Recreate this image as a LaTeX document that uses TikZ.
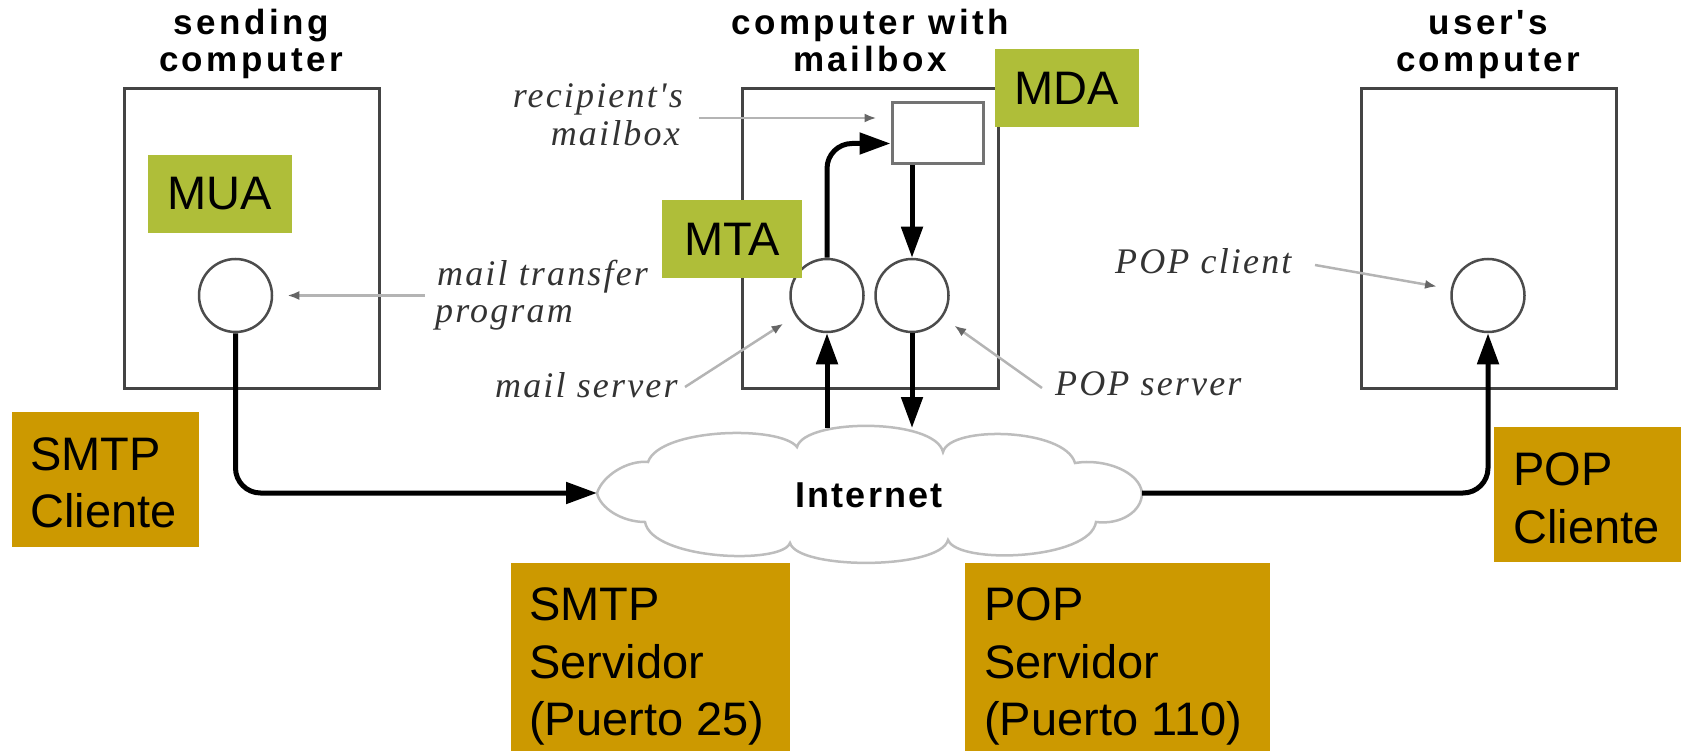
\documentclass[tikz,border=0pt]{standalone}
\usepackage{fontspec}
\usetikzlibrary{arrows.meta}
\newfontfamily\arialfont{Liberation Sans}
\newfontfamily\titlefont[LetterSpace=10]{Liberation Sans}
\newfontfamily\inetfont[LetterSpace=6]{Liberation Sans}
\newfontfamily\italfont[LetterSpace=6]{Liberation Serif}
\definecolor{boxgreen}{HTML}{AFBE39}
\definecolor{boxgold}{HTML}{CC9900}
\definecolor{framegray}{HTML}{444444}
\definecolor{thingray}{HTML}{B4B4B4}
\definecolor{cloudgray}{HTML}{BDBDBD}
\tikzset{
  compbox/.style={draw=framegray, line width=3pt, minimum width=255pt, minimum height=299pt, inner sep=0pt},
  circ/.style={circle, draw=black!70, line width=2.5pt, fill=white, minimum size=73pt, inner sep=0pt},
  greenbox/.style={fill=boxgreen, minimum width=144pt, minimum height=78pt, inner sep=0pt, font=\fontsize{47}{50}\arialfont\selectfont},
  goldbox/.style={fill=boxgold, inner sep=0pt},
  goldtext/.style={anchor=base west, inner sep=0pt, font=\fontsize{47}{57}\arialfont\selectfont},
  titletext/.style={anchor=base, inner sep=0pt, font=\fontsize{35}{38}\titlefont\bfseries\selectfont},
  lbltext/.style={inner sep=0pt, text=black!80, font=\fontsize{36}{38}\italfont\itshape\selectfont},
  conn/.style={line width=5pt, draw=black},
  tipA/.style={-{Triangle[length=31pt,width=21pt]}},
  tipB/.style={{Triangle[length=31pt,width=21pt]}-},
  lbl/.style={draw=thingray, line width=2.5pt, -{Latex[length=12pt,width=9pt,color=black!60]}, shorten >=14pt},
  cloudline/.style={draw=cloudgray, line width=2.5pt, fill=white}
}
\begin{document}
\begin{tikzpicture}[x=1pt,y=-1pt]
\useasboundingbox (0,0) rectangle (1683,751);

% computers
\node[compbox] (sendbox) at (251.5,238.5) {};
\node[compbox, minimum width=256pt] (mboxcomp) at (870,238.5) {};
\node[compbox] (userbox) at (1488.5,238.5) {};
\node[draw=black!55, line width=3pt, minimum width=91pt, minimum height=61pt, inner sep=0pt] (mbox) at (937.5,133.5) {};

% titles
\node[titletext] (t1a) at (251,35) {sending};
\node[titletext] (t1b) at (251,72) {computer};
\node[titletext] (t2a) at (870,35) {computer with};
\node[titletext] (t2b) at (870,72) {mailbox};
\node[titletext] (t3a) at (1488,35) {user's};
\node[titletext] (t3b) at (1488,72) {computer};

% cloud
\draw[cloudline] (597,493) .. controls (603,475) and (628,460) .. (648,462)
  .. controls (660,428) and (780,425) .. (797,447)
  .. controls (805,418) and (935,418) .. (943,452)
  .. controls (950,425) and (1065,428) .. (1075,463)
  .. controls (1105,458) and (1140,472) .. (1142,493)
  .. controls (1142,512) and (1120,525) .. (1096,522)
  .. controls (1090,560) and (958,565) .. (948,540)
  .. controls (940,570) and (798,570) .. (790,543)
  .. controls (782,565) and (652,560) .. (645,522)
  .. controls (622,522) and (600,508) .. (597,493) -- cycle;
\coordinate (cloudL) at (597,493);
\coordinate (cloudR) at (1142,493);
\coordinate (cloudT1) at (827,428);
\coordinate (cloudT2) at (912,428);
\node[inner sep=0pt, anchor=base, font=\fontsize{36}{38}\inetfont\bfseries\selectfont] (inet) at (869,507) {Internet};

% programs
\node[circ] (c1) at (235.5,295.5) {};
\node[circ] (c2) at (827,295.5) {};
\node[circ] (c3) at (912,295.5) {};
\node[circ] (c4) at (1488,295.5) {};

% connectors
\draw[conn, tipA, rounded corners=25pt] (c1.south) |- (cloudL);
\draw[conn, tipB, rounded corners=25pt] (c4.south) |- (cloudR);
\draw[conn, tipA] (cloudT1) -- (c2.south);
\draw[conn, tipA] (c3.south) -- (cloudT2);
\draw[conn, tipA] (c3.north |- mbox.south) -- (c3.north);
\draw[conn, tipA, rounded corners=25pt] (c2.north) |- ([yshift=-10pt]mbox.west);

% label arrows
\coordinate (mtpS) at (425,295.5);
\coordinate (rmS) at (699,118);
\coordinate (msS) at (685,387);
\coordinate (psS) at (1042,388);
\coordinate (pcS) at (1315,265);
\draw[lbl] (mtpS) -- (c1.east);
\draw[lbl] (rmS) -- (rmS -| mbox.west);
\draw[lbl] (msS) -- (c2);
\draw[lbl] (psS) -- (c3);
\draw[lbl] (pcS) -- (c4);

% italic labels
\node[lbltext, anchor=base east] (rm1) at (683,108) {recipient's};
\node[lbltext, anchor=base east] (rm2) at (680,146) {mailbox};
\node[lbltext, anchor=base west] (mt1) at (437,285) {mail transfer};
\node[lbltext, anchor=base west] (mt2) at (435,322) {program};
\node[lbltext, anchor=base west] (ms) at (495,397) {mail server};
\node[lbltext, anchor=base west] (ps) at (1055,395) {POP server};
\node[lbltext, anchor=base west] (pc) at (1115,273) {POP client};

% green tags
\node[greenbox] (mua) at (220,194) {MUA};
\node[greenbox, minimum width=140pt] (mta) at (732,239) {MTA};
\node[greenbox] (mda) at (1067,88) {MDA};

% gold tags
\node[goldbox, minimum width=187pt, minimum height=135pt] (smtpc) at (105.5,479.5) {};
\node[goldtext] (smtpc1) at (30,470) {SMTP};
\node[goldtext] (smtpc2) at (30,527) {Cliente};

\node[goldbox, minimum width=279pt, minimum height=188pt] (smtps) at (650.5,657) {};
\node[goldtext] (smtps1) at (529,620) {SMTP};
\node[goldtext] (smtps2) at (529,678) {Servidor};
\node[goldtext] (smtps3) at (529,735) {(Puerto 25)};

\node[goldbox, minimum width=305pt, minimum height=188pt] (pops) at (1117.5,657) {};
\node[goldtext] (pops1) at (984,620) {POP};
\node[goldtext] (pops2) at (984,678) {Servidor};
\node[goldtext] (pops3) at (984,735) {(Puerto 110)};

\node[goldbox, minimum width=187pt, minimum height=135pt] (popc) at (1587.5,494.5) {};
\node[goldtext] (popc1) at (1513,485) {POP};
\node[goldtext] (popc2) at (1513,543) {Cliente};
\end{tikzpicture}
\end{document}
